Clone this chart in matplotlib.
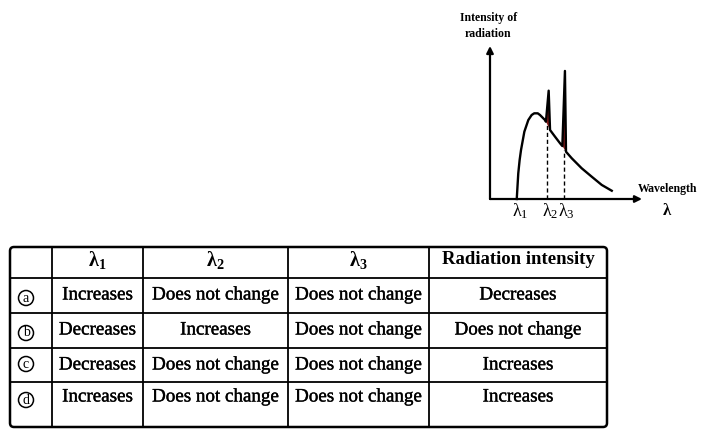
import matplotlib.pyplot as plt
import matplotlib.patheffects as pe
from matplotlib.patches import FancyBboxPatch, Circle

plt.rcParams['font.family'] = ['Liberation Serif', 'DejaVu Serif']
plt.rcParams['mathtext.fontset'] = 'custom'
plt.rcParams['mathtext.rm'] = 'Liberation Serif'
plt.rcParams['mathtext.bf'] = 'Liberation Serif:bold'

# spectrum (arbitrary units)
wavelength = [1.76, 1.86, 1.95, 2.04, 2.26, 2.52, 2.74, 2.91, 3.14, 3.29, 3.62, 3.68,
              3.86, 3.95, 4.28, 4.61, 4.76, 4.93, 5.0, 5.38, 6.03, 6.69, 7.35, 8.01]
intensity = [0.0, 1.68, 2.55, 3.20, 4.40, 5.16, 5.49, 5.60, 5.60, 5.49, 5.16, 5.05,
             7.08, 4.51, 4.07, 3.64, 3.46, 8.37, 3.09, 2.66, 2.01, 1.46, 0.92, 0.54]
spike2_wl = [3.68, 3.86, 3.95]
spike2_i = [5.05, 7.08, 4.51]
spike3_wl = [4.76, 4.93, 5.0]
spike3_i = [3.46, 8.37, 3.09]
lam_marks = [1.76, 3.77, 4.85]
lam_tops = [0.0, 4.97, 3.2]
lam_names = [r'$\mathrm{λ_1}$', r'$\mathrm{λ_2}$', r'$\mathrm{λ_3}$']

# table
options = ['a', 'b', 'c', 'd']
headers = [r'$\mathbf{λ_1}$', r'$\mathbf{λ_2}$', r'$\mathbf{λ_3}$', 'Radiation intensity']
lam1 = ['Increases', 'Decreases', 'Decreases', 'Increases']
lam2 = ['Does not change', 'Increases', 'Does not change', 'Does not change']
lam3 = ['Does not change', 'Does not change', 'Does not change', 'Does not change']
rad = ['Decreases', 'Does not change', 'Increases', 'Increases']

fig = plt.figure(figsize=(7.02, 4.30), dpi=100)
ax = fig.add_axes([0, 0, 1, 1])
ax.set_xlim(0, 702)
ax.set_ylim(430, 0)
ax.axis('off')

thick = [pe.withStroke(linewidth=0.25, foreground='black')]

# ---------------- graph ----------------
gx = fig.add_axes([490 / 702, 231 / 430, 152 / 702, 153 / 430])
gx.set_xlim(0, 10)
gx.set_ylim(0, 10)
gx.axis('off')
gx.patch.set_visible(False)

arrow = dict(arrowstyle='-|>', color='black', lw=1.6, mutation_scale=10, shrinkA=0, shrinkB=0)
gx.annotate('', xy=(10, 0), xytext=(0, 0), arrowprops=arrow, annotation_clip=False)
gx.annotate('', xy=(0, 10), xytext=(0, 0), arrowprops=arrow, annotation_clip=False)

gx.fill(spike2_wl, spike2_i, color='#8b1c1c', lw=0)
gx.fill(spike3_wl, spike3_i, color='#8b1c1c', lw=0)
gx.plot(wavelength, intensity, color='black', lw=1.7, clip_on=False, solid_joinstyle='round')

for x, top in zip(lam_marks[1:], lam_tops[1:]):
    gx.plot([x, x], [0, top], color='black', lw=1.0, ls=(0, (3, 2)))

for x, name in zip(lam_marks, lam_names):
    gx.text(x + 0.2, -0.8, name, ha='center', va='center', fontsize=13)

gx.text(-0.1, 11.3, 'Intensity of\nradiation', ha='center', va='center',
        fontsize=8.5, fontweight='bold', linespacing=1.4)
gx.text(11.65, 0.65, 'Wavelength', ha='center', va='center', fontsize=8.5, fontweight='bold')
gx.text(11.65, -0.8, 'λ', ha='center', va='center', fontsize=12, fontweight='bold')

# ---------------- table ----------------
col_edges = [10, 52, 143, 288, 429, 607]
row_edges = [247, 278, 313, 348, 382, 427]
text_rows = [295, 330, 365, 397]
circle_rows = [298, 333, 364, 400]

ax.add_patch(FancyBboxPatch((col_edges[0], row_edges[0]), col_edges[-1] - col_edges[0],
                            row_edges[-1] - row_edges[0],
                            boxstyle='round,pad=0,rounding_size=4',
                            fc='none', ec='black', lw=1.8))
for x in col_edges[1:-1]:
    ax.plot([x, x], [row_edges[0], row_edges[-1]], color='black', lw=1.3)
for y in row_edges[1:-1]:
    ax.plot([col_edges[0], col_edges[-1]], [y, y], color='black', lw=1.3)

centers = [(col_edges[i] + col_edges[i + 1]) / 2 for i in range(1, 5)]
for cx, h in zip(centers, headers):
    ax.text(cx, 260, h, ha='center', va='center', fontsize=14.5 if '$' in h else 13.5,
            fontweight='bold')

for j, col in enumerate([lam1, lam2, lam3, rad]):
    for y, txt in zip(text_rows, col):
        ax.text(centers[j], y, txt, ha='center', va='center', fontsize=13.7, path_effects=thick)

for y, opt in zip(circle_rows, options):
    ax.add_patch(Circle((26, y), 7.5, fc='none', ec='black', lw=1.1))
    ax.text(26, y, opt, ha='center', va='center', fontsize=10)

fig.savefig('out.png', dpi=100, facecolor='white')
